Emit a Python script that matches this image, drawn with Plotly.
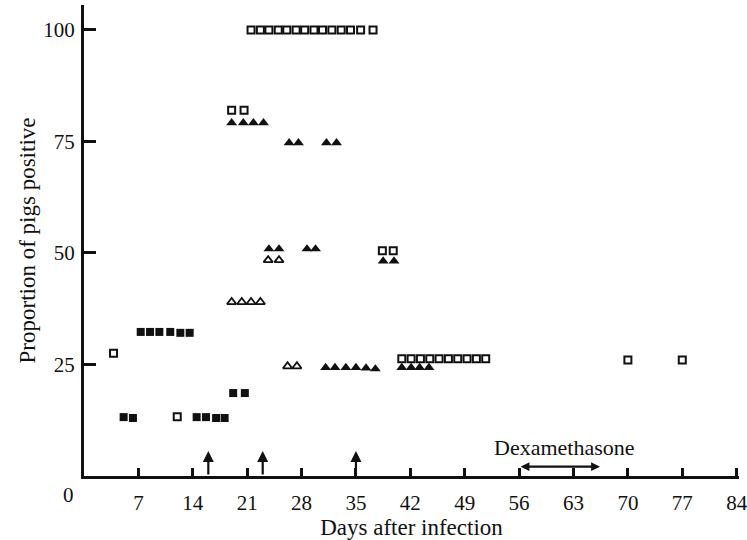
import plotly.graph_objects as go

# ---- data (days after infection, % of pigs positive) ----
open_sq_days = [3.8, 12.0, 19.0, 20.6,
                21.5, 22.7, 23.8, 25.0, 26.1, 27.3, 28.4, 29.6, 30.7, 31.9, 33.1, 34.3, 35.6, 37.2,
                38.4, 39.8,
                40.9, 42.1, 43.3, 44.5, 45.7, 46.9, 48.1, 49.3, 50.5, 51.7,
                70.0, 77.0]
open_sq_vals = [27.5, 13.3, 82.0, 82.0,
                100, 100, 100, 100, 100, 100, 100, 100, 100, 100, 100, 100, 100, 100,
                50.5, 50.5,
                26.3, 26.3, 26.3, 26.3, 26.3, 26.3, 26.3, 26.3, 26.3, 26.3,
                26.0, 26.0]

filled_sq_days = [5.1, 6.3,
                  7.3, 8.5, 9.7, 11.1, 12.4, 13.6,
                  14.5, 15.7, 17.0, 18.1,
                  19.2, 20.7]
filled_sq_vals = [13.2, 13.0,
                  32.3, 32.3, 32.3, 32.3, 32.1, 32.1,
                  13.2, 13.2, 13.0, 13.0,
                  18.6, 18.6]

open_tri_days = [19.0, 20.3, 21.5, 22.7, 23.7, 25.1, 26.2, 27.4]
open_tri_vals = [39.0, 39.0, 39.0, 39.0, 48.4, 48.4, 24.6, 24.6]

filled_tri_days = [19.0, 20.5, 21.8, 23.1,
                   26.4, 27.6, 31.2, 32.5,
                   23.8, 25.1, 28.7, 29.8,
                   38.5, 39.9,
                   31.1, 32.3, 33.7, 35.0, 36.3, 37.5,
                   40.9, 42.1, 43.2, 44.4]
filled_tri_vals = [79.2, 79.2, 79.2, 79.2,
                   74.7, 74.7, 74.7, 74.7,
                   50.9, 50.9, 50.9, 50.9,
                   48.2, 48.2,
                   24.3, 24.3, 24.3, 24.3, 24.2, 24.0,
                   24.3, 24.3, 24.3, 24.3]

x_ticks = [7, 14, 21, 28, 35, 42, 49, 56, 63, 70, 77, 84]
y_ticks = [25, 50, 75, 100]
arrow_days = [16, 23, 35]
dexa_period = (56, 66.4)

FONT = "Liberation Serif"
INK = "#111111"

fig = go.Figure()

fig.add_trace(go.Scatter(x=filled_sq_days, y=filled_sq_vals, mode="markers",
                         marker=dict(symbol="square", size=8, color=INK,
                                     line=dict(width=0)), showlegend=False))
fig.add_trace(go.Scatter(x=open_sq_days, y=open_sq_vals, mode="markers",
                         marker=dict(symbol="square-open", size=7, color=INK,
                                     line=dict(width=2, color=INK)), showlegend=False))
fig.add_trace(go.Scatter(x=filled_tri_days, y=filled_tri_vals, mode="markers",
                         marker=dict(symbol="triangle-up", size=9.5, color=INK,
                                     line=dict(width=0)), showlegend=False))
fig.add_trace(go.Scatter(x=open_tri_days, y=open_tri_vals, mode="markers",
                         marker=dict(symbol="triangle-up-open", size=8, color=INK,
                                     line=dict(width=1.8, color=INK)), showlegend=False))

annotations = []
# treatment arrows on the x axis
for d in arrow_days:
    annotations.append(dict(x=d, y=5.6, ax=d, ay=0, xref="x", yref="y", axref="x", ayref="y",
                            text="", showarrow=True, arrowhead=2, arrowsize=1,
                            arrowwidth=2.2, arrowcolor=INK))
# dexamethasone period double arrow
annotations.append(dict(x=dexa_period[1], y=2.1, ax=dexa_period[0], ay=2.1,
                        xref="x", yref="y", axref="x", ayref="y", text="",
                        showarrow=True, arrowhead=2, startarrowhead=2, arrowside="end+start",
                        arrowsize=0.8, startarrowsize=0.8, arrowwidth=2.2, arrowcolor=INK))
annotations.append(dict(x=(dexa_period[0] + dexa_period[1]) / 2 + 0.7, y=6.5,
                        xref="x", yref="y", text="Dexamethasone", showarrow=False,
                        font=dict(family=FONT, size=22, color=INK)))
# origin label
annotations.append(dict(x=0, y=0, xref="x", yref="y", text="0", showarrow=False,
                        xshift=-16, yshift=-19, font=dict(family=FONT, size=21, color=INK)))

fig.update_layout(
    width=747, height=540,
    margin=dict(l=84, r=8, t=5, b=64),
    paper_bgcolor="white", plot_bgcolor="white",
    font=dict(family=FONT, size=21, color=INK),
    annotations=annotations,
    xaxis=dict(range=[0, 84.3], tickvals=x_ticks, ticktext=[str(v) for v in x_ticks],
               ticks="inside", ticklen=8, tickwidth=2.5, tickcolor=INK,
               showline=True, linewidth=3, linecolor=INK, showgrid=False, zeroline=False,
               ticklabelstandoff=6, ticklabeloverflow="allow", automargin=False,
               title=dict(text="Days after infection", standoff=8,
                          font=dict(family=FONT, size=23, color=INK))),
    yaxis=dict(range=[0, 105.6], tickvals=y_ticks, ticktext=[str(v) for v in y_ticks],
               ticks="inside", ticklen=12, tickwidth=2.5, tickcolor=INK,
               showline=True, linewidth=3, linecolor=INK, showgrid=False, zeroline=False,
               ticklabelstandoff=2, automargin=False,
               title=dict(text="Proportion of pigs positive", standoff=2,
                          font=dict(family=FONT, size=23, color=INK))),
)

fig.write_html("out.html")
